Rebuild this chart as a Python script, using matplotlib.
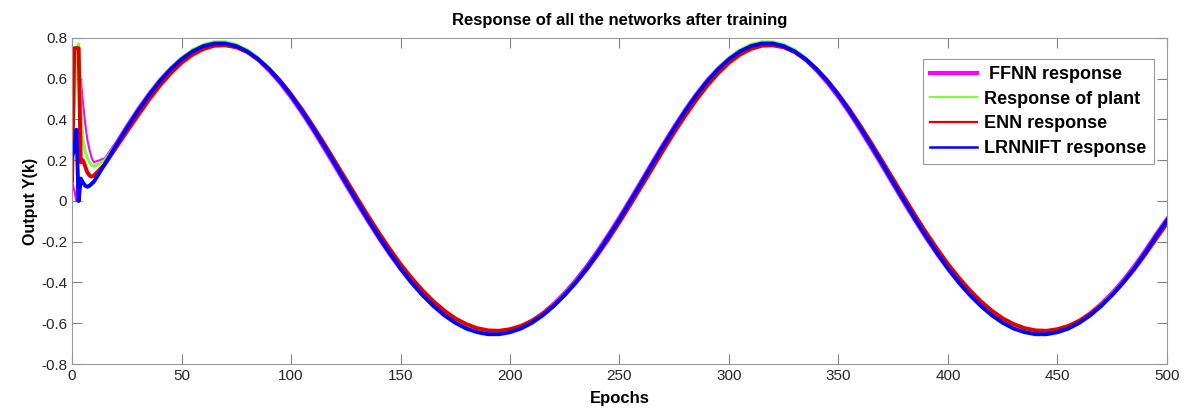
import matplotlib
matplotlib.use("Agg")
import matplotlib.pyplot as plt
from matplotlib.lines import Line2D

plt.rcParams["font.family"] = ["Liberation Sans", "DejaVu Sans"]
plt.rcParams["axes.unicode_minus"] = False

# epochs: fine steps during the start-up transient, then every 5 epochs
epochs = list(range(0, 10)) + list(range(10, 501, 5))

# LRNNIFT response (blue)
lrnnift = [
    0.22, 0.25, 0.35, 0.00, 0.11, 0.09, 0.075, 0.07, 0.075, 0.085,
    0.095, 0.182, 0.271, 0.358, 0.441, 0.518, 0.587, 0.646, 0.696, 0.734, 0.760, 0.773,
    0.773, 0.760, 0.734, 0.696, 0.646, 0.587, 0.518, 0.441, 0.358, 0.271, 0.182, 0.090,
    0.000,
    -0.089, -0.174, -0.255, -0.331, -0.400, -0.461, -0.515, -0.561, -0.598, -0.626, -0.644, -0.654,
    -0.654, -0.644, -0.626, -0.598, -0.561, -0.515, -0.461, -0.400, -0.331, -0.255, -0.174, -0.089,
    0.000,
    0.090, 0.182, 0.271, 0.358, 0.441, 0.518, 0.587, 0.646, 0.696, 0.734, 0.760, 0.773,
    0.773, 0.760, 0.734, 0.696, 0.646, 0.587, 0.518, 0.441, 0.358, 0.271, 0.182, 0.090,
    0.000,
    -0.089, -0.174, -0.255, -0.331, -0.400, -0.461, -0.515, -0.561, -0.598, -0.626, -0.644, -0.654,
    -0.654, -0.644, -0.626, -0.598, -0.561, -0.515, -0.461, -0.400, -0.331, -0.255, -0.174, -0.095,
]

# response of plant (green)
plant = [
    0.10, 0.45, 0.74, 0.77, 0.45, 0.30, 0.24, 0.21, 0.19, 0.175,
    0.170, 0.200, 0.275, 0.360, 0.444, 0.521, 0.591, 0.652, 0.703, 0.742, 0.768, 0.781,
    0.781, 0.768, 0.742, 0.703, 0.652, 0.591, 0.521, 0.444, 0.360, 0.272, 0.182, 0.091,
    0.000,
    -0.088, -0.173, -0.253, -0.328, -0.396, -0.456, -0.509, -0.554, -0.590, -0.617, -0.635, -0.644,
    -0.644, -0.635, -0.617, -0.590, -0.554, -0.509, -0.456, -0.396, -0.328, -0.253, -0.173, -0.088,
    0.000,
    0.091, 0.182, 0.272, 0.360, 0.444, 0.521, 0.591, 0.652, 0.703, 0.742, 0.768, 0.781,
    0.781, 0.768, 0.742, 0.703, 0.652, 0.591, 0.521, 0.444, 0.360, 0.272, 0.182, 0.091,
    0.000,
    -0.088, -0.173, -0.253, -0.328, -0.396, -0.456, -0.509, -0.554, -0.590, -0.617, -0.635, -0.644,
    -0.644, -0.635, -0.617, -0.590, -0.554, -0.509, -0.456, -0.396, -0.328, -0.253, -0.173, -0.092,
]

# ENN response (red)
enn = [
    0.10, 0.75, 0.75, 0.75, 0.19, 0.20, 0.17, 0.14, 0.125, 0.12,
    0.125, 0.180, 0.260, 0.340, 0.418, 0.495, 0.565, 0.626, 0.678, 0.718, 0.746, 0.762,
    0.764, 0.754, 0.731, 0.695, 0.648, 0.591, 0.524, 0.450, 0.369, 0.284, 0.196, 0.107,
    0.018,
    -0.070, -0.154, -0.234, -0.309, -0.377, -0.438, -0.492, -0.538, -0.576, -0.604, -0.624, -0.635,
    -0.637, -0.629, -0.613, -0.588, -0.554, -0.512, -0.461, -0.402, -0.337, -0.264, -0.187, -0.104,
    -0.018,
    0.071, 0.160, 0.249, 0.336, 0.418, 0.495, 0.565, 0.626, 0.678, 0.718, 0.746, 0.762,
    0.764, 0.754, 0.731, 0.695, 0.648, 0.591, 0.524, 0.450, 0.369, 0.284, 0.196, 0.107,
    0.018,
    -0.070, -0.154, -0.234, -0.309, -0.377, -0.438, -0.492, -0.538, -0.576, -0.604, -0.624, -0.635,
    -0.637, -0.629, -0.613, -0.588, -0.554, -0.512, -0.461, -0.402, -0.337, -0.264, -0.187, -0.110,
]

# FFNN response (magenta)
ffnn = [
    0.10, 0.05, 0.00, 0.30, 0.60, 0.48, 0.38, 0.30, 0.25, 0.21,
    0.190, 0.210, 0.288, 0.374, 0.456, 0.531, 0.599, 0.657, 0.704, 0.740, 0.764, 0.774,
    0.772, 0.756, 0.727, 0.687, 0.634, 0.572, 0.502, 0.424, 0.340, 0.252, 0.163, 0.072,
    -0.018,
    -0.105, -0.189, -0.268, -0.341, -0.408, -0.467, -0.518, -0.561, -0.595, -0.621, -0.637, -0.645,
    -0.643, -0.632, -0.612, -0.583, -0.545, -0.498, -0.444, -0.382, -0.313, -0.237, -0.156, -0.071,
    0.018,
    0.108, 0.199, 0.288, 0.374, 0.456, 0.531, 0.599, 0.657, 0.704, 0.740, 0.764, 0.774,
    0.772, 0.756, 0.727, 0.687, 0.634, 0.572, 0.502, 0.424, 0.340, 0.252, 0.163, 0.072,
    -0.018,
    -0.105, -0.189, -0.268, -0.341, -0.408, -0.467, -0.518, -0.561, -0.595, -0.621, -0.637, -0.645,
    -0.643, -0.632, -0.612, -0.583, -0.545, -0.498, -0.444, -0.382, -0.313, -0.237, -0.156, -0.080,
]

labels = [" FFNN response", "Response of plant", "ENN response", "LRNNIFT response"]
colors = ["#ff00ff", "#80ff33", "#e00000", "#0000ff"]

x_ticks = list(range(0, 501, 50))
y_ticks = [-0.8, -0.6, -0.4, -0.2, 0, 0.2, 0.4, 0.6, 0.8]
y_tick_labels = ["-0.8", "-0.6", "-0.4", "-0.2", "0", "0.2", "0.4", "0.6", "0.8"]

fig = plt.figure(figsize=(11.91, 4.12), dpi=100)
ax = fig.add_axes([0.0605, 0.1165, 0.9193, 0.7913])

series = [ffnn, plant, enn, lrnnift]
widths = [1.5, 2.2, 2.8, 2.8]
for vals, col, lw in zip(series, colors, widths):
    ax.plot(epochs, vals, color=col, linewidth=lw, solid_joinstyle="round")

ax.set_xlim(0, 500)
ax.set_ylim(-0.8, 0.8)
ax.set_xticks(x_ticks)
ax.set_yticks(y_ticks)
ax.set_yticklabels(y_tick_labels)
ax.tick_params(direction="in", length=7, width=0.8, colors="#808080",
               labelcolor="#262626", labelsize=11, top=True, right=True)
for sp in ax.spines.values():
    sp.set_color("#999999")
    sp.set_linewidth(0.8)

ax.set_xlabel("Epochs", fontsize=12, fontweight="bold", labelpad=6)
ax.set_ylabel("Output Y(k)", fontsize=11.5, fontweight="bold", labelpad=2)
ax.set_title("Response of all the networks after training", fontsize=12,
             fontweight="bold", pad=9)

# legend line widths differ from the plotted lines in the original
handles = [Line2D([], [], color=c, linewidth=w)
           for c, w in zip(colors, [3.0, 1.6, 1.6, 1.8])]
leg = ax.legend(handles, labels, loc="upper right", bbox_to_anchor=(0.988, 0.936),
                borderaxespad=0, fancybox=False, framealpha=1, edgecolor="#999999",
                prop={"weight": "bold", "size": 13}, handlelength=2.6,
                labelspacing=0.42, handletextpad=0.4, borderpad=0.4)
leg.get_frame().set_linewidth(0.8)

fig.savefig("out.png", dpi=100)
